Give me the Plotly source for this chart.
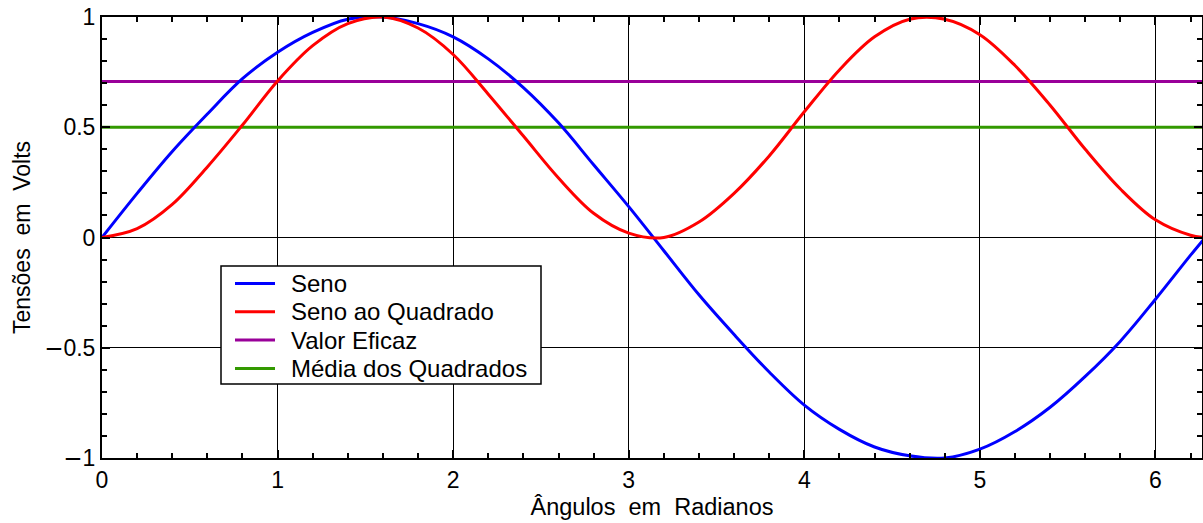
import plotly.graph_objects as go

# Angles (rad) and values
x_curve = [0.0, 0.2, 0.4, 0.6, 0.8, 1.0, 1.2, 1.4, 1.6, 1.8, 2.0, 2.2, 2.4, 2.6, 2.8, 3.0,
           3.2, 3.4, 3.6, 3.8, 4.0, 4.2, 4.4, 4.6, 4.8, 5.0, 5.2, 5.4, 5.6, 5.8, 6.0, 6.2, 6.283]
seno = [0.0, 0.20, 0.39, 0.56, 0.72, 0.84, 0.93, 0.99, 1.00, 0.97, 0.91, 0.81, 0.68, 0.52, 0.33, 0.14,
        -0.06, -0.26, -0.44, -0.61, -0.76, -0.87, -0.95, -0.99, -1.00, -0.96, -0.88, -0.77, -0.63, -0.47,
        -0.28, -0.08, 0.0]
seno_quad = [0.0, 0.04, 0.15, 0.32, 0.51, 0.71, 0.87, 0.97, 1.00, 0.95, 0.83, 0.65, 0.46, 0.27, 0.11, 0.02,
             0.00, 0.07, 0.20, 0.37, 0.57, 0.76, 0.91, 0.99, 0.99, 0.92, 0.78, 0.60, 0.40, 0.22,
             0.08, 0.01, 0.0]
x_const = [0.0, 6.283]
valor_eficaz = [0.707, 0.707]
media_quadrados = [0.5, 0.5]

names = ["Seno", "Seno ao Quadrado", "Valor Eficaz", "Média dos Quadrados"]
colors = ["#0000ff", "#ff0000", "#990099", "#339900"]

x_tickvals = [0, 1, 2, 3, 4, 5, 6]
x_ticktext = ["0", "1", "2", "3", "4", "5", "6"]
y_tickvals = [-1, -0.5, 0, 0.5, 1]
y_ticktext = ["\u22121", "\u22120.5", "0", "0.5", "1"]

x_title = "Ângulos\u00a0\u00a0em\u00a0\u00a0Radianos"
y_title = "Tensões\u00a0\u00a0em\u00a0\u00a0Volts"

fig = go.Figure()
fig.add_trace(go.Scatter(x=x_const, y=valor_eficaz, mode="lines", name=names[2],
                         line=dict(color=colors[2], width=3)))
fig.add_trace(go.Scatter(x=x_const, y=media_quadrados, mode="lines", name=names[3],
                         line=dict(color=colors[3], width=3)))
fig.add_trace(go.Scatter(x=x_curve, y=seno, mode="lines", name=names[0],
                         line=dict(color=colors[0], width=3, shape="spline")))
fig.add_trace(go.Scatter(x=x_curve, y=seno_quad, mode="lines", name=names[1],
                         line=dict(color=colors[1], width=3, shape="spline")))

font = "Liberation Sans, Arial, sans-serif"
minus_font = "DejaVu Sans"
y_ticktext_html = [t.replace("\u2212", '<span style="font-family:%s">\u2212</span>' % minus_font)
                   for t in y_ticktext]

axis_common = dict(
    showline=True, linecolor="black", linewidth=2, mirror="allticks",
    ticks="inside", ticklen=8, tickwidth=2, tickcolor="black",
    showgrid=True, gridcolor="black", gridwidth=1,
    zeroline=True, zerolinecolor="black", zerolinewidth=1,
    tickfont=dict(family=font, size=23, color="black"),
    ticklabeloverflow="allow", automargin=False,
)

fig.update_xaxes(range=[0, 6.265], tickmode="array", tickvals=x_tickvals, ticktext=x_ticktext,
                 minor=dict(dtick=0.2, tick0=0, ticks="inside", ticklen=5, tickwidth=2, tickcolor="black", showgrid=False),
                 title=dict(text=x_title, font=dict(family=font, size=23.5, color="black"), standoff=7),
                 **axis_common)
fig.update_yaxes(range=[-1, 1], tickmode="array", tickvals=y_tickvals, ticktext=y_ticktext_html,
                 minor=dict(dtick=0.1, tick0=0, ticks="inside", ticklen=5, tickwidth=2, tickcolor="black", showgrid=False),
                 title=dict(text=y_title, font=dict(family=font, size=23, color="black"), standoff=7),
                 **axis_common)

# Layout geometry in page pixels (page body margin removed below)
W, H = 1203, 523
ML, MR, MT, MB = 102, 1, 17, 65
PW, PH = W - ML - MR, H - MT - MB

def px(xp):
    return (xp - ML) / PW

def py(yp):
    return (H - MB - yp) / PH

fig.update_layout(
    width=W, height=H,
    margin=dict(l=ML, r=MR, t=MT, b=MB, autoexpand=False),
    plot_bgcolor="white", paper_bgcolor="white",
    font=dict(family=font, size=23, color="black"),
    showlegend=False,
)

# Hand-built legend box (to match row spacing of the original)
box_l, box_r, box_t, box_b = 221, 541, 266, 384
row0, row_step = 283.5, 28.3
line_l, line_r, text_l = 235, 275, 289
shapes = [dict(type="rect", xref="paper", yref="paper", x0=px(box_l), x1=px(box_r), y0=py(box_b), y1=py(box_t),
               fillcolor="white", line=dict(color="black", width=1.5), layer="above")]
annotations = []
for i, (nm, col) in enumerate(zip(names, colors)):
    yy = row0 + i * row_step
    shapes.append(dict(type="line", xref="paper", yref="paper", x0=px(line_l), x1=px(line_r),
                       y0=py(yy), y1=py(yy), line=dict(color=col, width=3), layer="above"))
    annotations.append(dict(text=nm, xref="paper", yref="paper", x=px(text_l), y=py(yy),
                            xanchor="left", yanchor="middle", showarrow=False,
                            font=dict(family=font, size=24, color="black")))
fig.update_layout(shapes=shapes, annotations=annotations)

fig.write_html("out.html", config={"displayModeBar": False},
               post_script="document.body.style.margin='0px';document.body.style.overflow='hidden';")
